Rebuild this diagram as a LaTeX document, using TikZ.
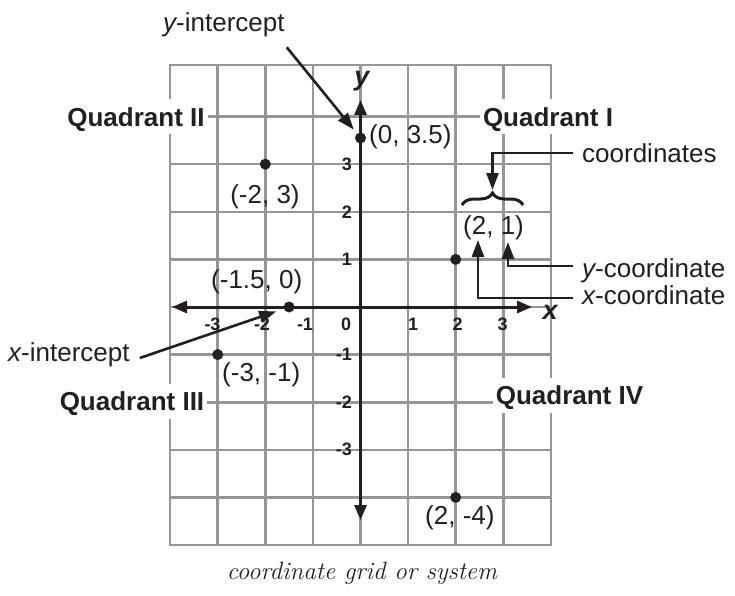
\documentclass[tikz,border=0pt]{standalone}
\usepackage{fontspec}
\setsansfont{Liberation Sans}
\usetikzlibrary{arrows.meta,decorations.pathreplacing}
\definecolor{gridgray}{RGB}{150,150,150}
\definecolor{ink}{RGB}{35,31,32}
\begin{document}
\begin{tikzpicture}[x=1pt,y=-1pt,
  gridline/.style={draw=gridgray,line width=2.6pt},
  axis/.style={draw=ink,line width=3pt,{Triangle[length=15pt,width=12pt]}-{Triangle[length=15pt,width=12pt]}},
  pointer/.style={draw=ink,line width=2.6pt,-{Triangle[length=17pt,width=12pt]}},
  dot/.style={circle,fill=ink,inner sep=0pt,minimum size=11pt},
  lbl/.style={font=\fontsize{26}{30}\selectfont\sffamily,text=ink,inner sep=0pt},
  quad/.style={font=\fontsize{26}{30}\selectfont\sffamily\bfseries,text=ink,fill=white,inner xsep=3pt,inner ysep=8pt,text height=19pt,text depth=0pt},
  ticklbl/.style={font=\fontsize{18}{20}\selectfont\sffamily\bfseries,text=ink,inner sep=0pt},
  axlbl/.style={font=\fontsize{27}{30}\selectfont\sffamily\bfseries\itshape,text=ink,inner sep=0pt},
  caption/.style={font=\fontsize{25}{29}\selectfont\itshape,text=ink,inner sep=0pt},
]
\fill[white] (0,0) rectangle (735,596);
\useasboundingbox (0,0) rectangle (735,596);

% grid
\draw[gridline] (170,65) rectangle (551,545);
\foreach \i in {1,...,7} \draw[gridline] ({170+47.625*\i},65) -- ({170+47.625*\i},545);
\foreach \j in {1,...,9} \draw[gridline] (170,{545-47.6*\j}) -- (551,{545-47.6*\j});

% quadrant labels
\node[quad] (q2) at (136,117) {Quadrant II};
\node[quad] (q1) at (548,117) {Quadrant I};
\node[quad] (q3) at (132,401) {Quadrant III};
\node[quad] (q4) at (569.5,395) {Quadrant IV};

% axes
\coordinate (xl) at (172,307);
\coordinate (xr) at (532,307);
\coordinate (yt) at (360.5,100);
\coordinate (yb) at (360.5,520);
\draw[axis] (xl) -- (xr);
\draw[axis] (yb) -- (yt);
\node[axlbl] (ylab) at (362,81) {y};
\node[axlbl] (xlab) at (550,312) {x};

% tick labels
\node[ticklbl] (tm3) at (212.5,324) {-3};
\node[ticklbl] (tm2) at (262,324) {-2};
\node[ticklbl] (tm1) at (305,324) {-1};
\node[ticklbl] (t0) at (346,324) {0};
\node[ticklbl] (t1) at (413,324) {1};
\node[ticklbl] (t2) at (457.5,324) {2};
\node[ticklbl] (t3) at (502.5,324) {3};
\node[ticklbl,anchor=east] (v3) at (352,164.2) {3};
\node[ticklbl,anchor=east] (v2) at (352,211.8) {2};
\node[ticklbl,anchor=east] (v1) at (352,259.4) {1};
\node[ticklbl,anchor=east] (vm1) at (352,354.6) {-1};
\node[ticklbl,anchor=east] (vm2) at (352,402.2) {-2};
\node[ticklbl,anchor=east] (vm3) at (352,449.8) {-3};

% points
\node[dot] (p35) at (360.5,138) {};
\node[dot] (pm23) at (265.3,164.2) {};
\node[dot] (p21) at (455.7,259.4) {};
\node[dot] (pm15) at (289.1,307) {};
\node[dot] (pm3m1) at (217.7,354.6) {};
\node[dot] (p2m4) at (455.7,497.4) {};

% point labels
\node[lbl,anchor=west] (l35) at (369,137) {(0, 3.5)};
\node[lbl] (lm23) at (265,197) {(-2, 3)};
\node[lbl,anchor=west] (l21) at (463,228) {(2, 1)};
\node[lbl,anchor=west] (lm15) at (211,282) {(-1.5, 0)};
\node[lbl,anchor=west] (lm3m1) at (222,375) {(-3, -1)};
\node[lbl,anchor=west] (l2m4) at (425,518) {(2, -4)};

% brace and coordinate annotations
\draw[ink,line width=3pt,decorate,decoration={brace,amplitude=12pt}] (462,205) -- (523,205);
\coordinate (bracetop) at (492.5,190);
\coordinate (ytip) at (508,242);
\coordinate (xtip) at (478,240);
\node[lbl,anchor=west] (coords) at (582,153) {coordinates};
\node[lbl,anchor=west] (ycoord) at (582,270.5) {{\itshape y}-coordinate};
\node[lbl,anchor=west] (xcoord) at (582,295) {{\itshape x}-coordinate};
\draw[pointer] ([xshift=-9pt,yshift=4.5pt]ycoord.west) -| (ytip);
\draw[pointer] ([xshift=-9pt,yshift=-3pt]xcoord.west) -| (xtip);
\draw[pointer] ([xshift=-9pt]coords.west) -| (bracetop);

% intercept annotations
\node[lbl,anchor=west] (yint) at (163,25) {{\itshape y}-intercept};
\node[lbl,anchor=west] (xint) at (8,355) {{\itshape x}-intercept};
\draw[pointer,shorten >=5pt] ([shift={(2,10)}]yint.south east) -- (p35);
\draw[pointer,shorten >=8pt] ([shift={(10,3)}]xint.east) -- (pm15);

% caption
\node[caption] (cap) at (362,573) {coordinate grid or system};
\end{tikzpicture}
\end{document}
